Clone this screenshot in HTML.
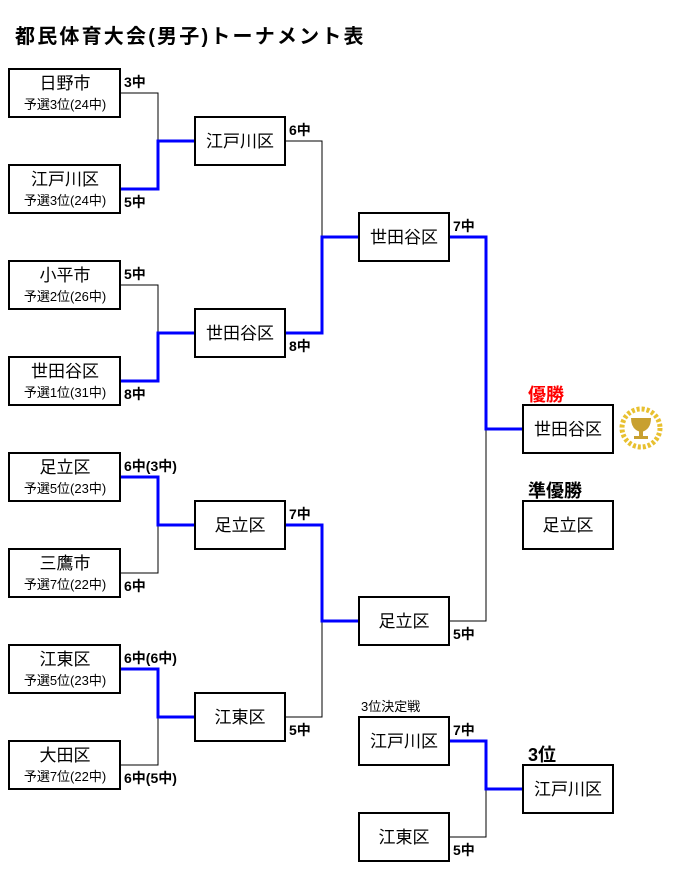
<!DOCTYPE html>
<html><head><meta charset="utf-8"><style>
body{margin:0;background:#fff;width:677px;height:880px;overflow:hidden}
svg{display:block}
text{font-family:"Liberation Sans","Noto Sans CJK JP",sans-serif}
.n{font-size:17px;fill:#000}
.s{font-size:13px;fill:#000}
.c{font-size:14px;font-weight:bold;fill:#000}
</style></head><body>
<svg width="677" height="880" viewBox="0 0 677 880">
<text x="15" y="43" style="font-size:20px;font-weight:bold;letter-spacing:2.2px">都民体育大会(男子)トーナメント表</text>
<g fill="#fff" stroke="#000" stroke-width="2" shape-rendering="crispEdges">
<rect x="9" y="69" width="111" height="48"/><rect x="9" y="165" width="111" height="48"/>
<rect x="9" y="261" width="111" height="48"/><rect x="9" y="357" width="111" height="48"/>
<rect x="9" y="453" width="111" height="48"/><rect x="9" y="549" width="111" height="48"/>
<rect x="9" y="645" width="111" height="48"/><rect x="9" y="741" width="111" height="48"/>
<rect x="195" y="117" width="90" height="48"/><rect x="195" y="309" width="90" height="48"/>
<rect x="195" y="501" width="90" height="48"/><rect x="195" y="693" width="90" height="48"/>
<rect x="359" y="213" width="90" height="48"/><rect x="359" y="597" width="90" height="48"/>
<rect x="523" y="405" width="90" height="48"/><rect x="523" y="501" width="90" height="48"/>
<rect x="359" y="717" width="90" height="48"/><rect x="359" y="813" width="90" height="48"/>
<rect x="523" y="765" width="90" height="48"/>
</g>
<g fill="none" stroke="#000" stroke-width="1" shape-rendering="crispEdges">
<polyline points="121,93 158,93 158,141"/>
<polyline points="121,285 158,285 158,333"/>
<polyline points="121,573 158,573 158,525"/>
<polyline points="121,765 158,765 158,717"/>
<polyline points="286,141 322,141 322,237"/>
<polyline points="286,717 322,717 322,621"/>
<polyline points="450,621 486,621 486,429"/>
<polyline points="450,837 486,837 486,789"/>
</g>
<g fill="none" stroke="#0000ff" stroke-width="3">
<polyline points="121,189 158,189 158,141 194,141"/>
<polyline points="121,381 158,381 158,333 194,333"/>
<polyline points="121,477 158,477 158,525 194,525"/>
<polyline points="121,669 158,669 158,717 194,717"/>
<polyline points="286,333 322,333 322,237 358,237"/>
<polyline points="286,525 322,525 322,621 358,621"/>
<polyline points="450,237 486,237 486,429 522,429"/>
<polyline points="450,741 486,741 486,789 522,789"/>
</g>
<g class="n" text-anchor="middle">
<text x="65" y="89">日野市</text><text x="65" y="185">江戸川区</text>
<text x="65" y="281">小平市</text><text x="65" y="377">世田谷区</text>
<text x="65" y="473">足立区</text><text x="65" y="569">三鷹市</text>
<text x="65" y="665">江東区</text><text x="65" y="761">大田区</text>
<text x="240" y="147">江戸川区</text><text x="240" y="339">世田谷区</text>
<text x="240" y="531">足立区</text><text x="240" y="723">江東区</text>
<text x="404" y="243">世田谷区</text><text x="404" y="627">足立区</text>
<text x="568" y="435">世田谷区</text><text x="568" y="531">足立区</text>
<text x="404" y="747">江戸川区</text><text x="404" y="843">江東区</text>
<text x="568" y="795">江戸川区</text>
</g>
<g class="s" text-anchor="middle">
<text x="65" y="109">予選3位(24中)</text><text x="65" y="205">予選3位(24中)</text>
<text x="65" y="301">予選2位(26中)</text><text x="65" y="397">予選1位(31中)</text>
<text x="65" y="493">予選5位(23中)</text><text x="65" y="589">予選7位(22中)</text>
<text x="65" y="685">予選5位(23中)</text><text x="65" y="781">予選7位(22中)</text>
</g>
<g class="c">
<text x="124" y="87">3中</text><text x="124" y="207">5中</text>
<text x="124" y="279">5中</text><text x="124" y="399">8中</text>
<text x="124" y="471">6中(3中)</text><text x="124" y="591">6中</text>
<text x="124" y="663">6中(6中)</text><text x="124" y="783">6中(5中)</text>
<text x="289" y="135">6中</text><text x="289" y="351">8中</text>
<text x="289" y="519">7中</text><text x="289" y="735">5中</text>
<text x="453" y="231">7中</text><text x="453" y="639">5中</text>
<text x="453" y="735">7中</text><text x="453" y="855">5中</text>
</g>
<text x="528" y="401" style="font-size:18px;font-weight:bold;fill:#ff0000">優勝</text>
<text x="528" y="497" style="font-size:18px;font-weight:bold">準優勝</text>
<text x="528" y="761" style="font-size:18px;font-weight:bold">3位</text>
<text x="361" y="711" style="font-size:13px">3位決定戦</text>
<circle cx="641" cy="428" r="19" fill="none" stroke="#e8c030" stroke-width="5" stroke-dasharray="3 2"/>
<path d="M631,418 h20 q0,12 -10,14 q-10,-2 -10,-14z" fill="#c8a030"/>
<rect x="639" y="431" width="4" height="5" fill="#c8a030"/>
<rect x="634" y="436" width="14" height="3" fill="#c8a030"/>
</svg>
</body></html>
